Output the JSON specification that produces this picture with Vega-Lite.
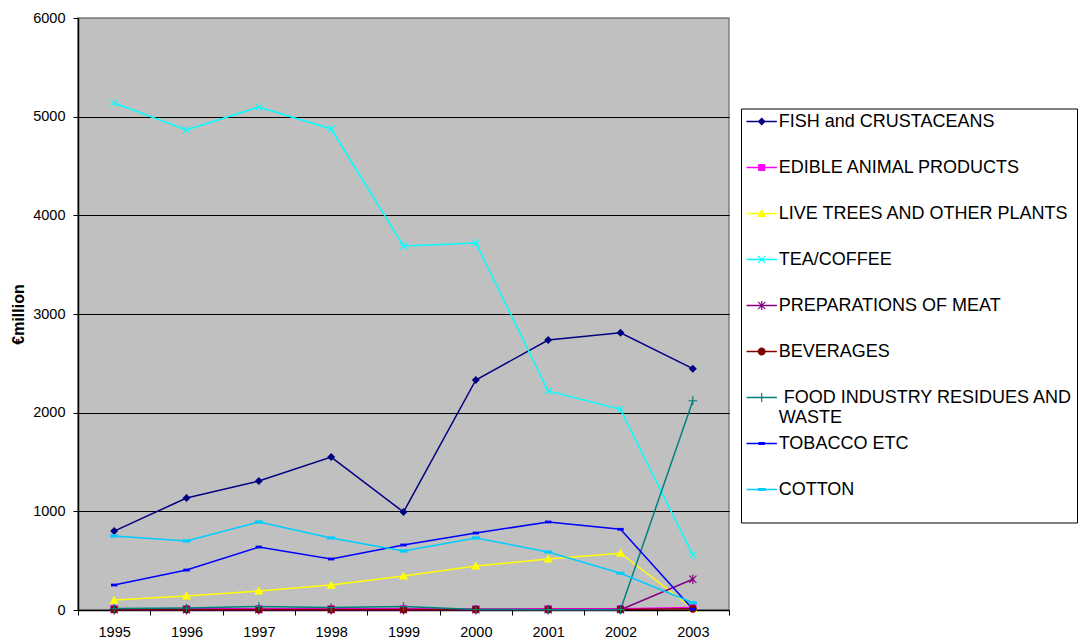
{
  "$schema": "https://vega.github.io/schema/vega-lite/v6.json",
  "width": 651,
  "height": 592,
  "autosize": {"type": "none"},
  "padding": {"left": 78, "top": 18, "right": 351, "bottom": 32},
  "background": "white",
  "config": {
    "font": "Liberation Sans",
    "view": {"fill": "#C0C0C0", "stroke": "#808080", "strokeWidth": 1.5},
    "axis": {
      "labelFont": "Liberation Sans",
      "labelFontSize": 14.5,
      "labelColor": "black",
      "tickColor": "black",
      "tickSize": 5,
      "domainColor": "black",
      "domainWidth": 1.5
    }
  },
  "data": {
    "values": [
      {"series": "FISH and CRUSTACEANS", "year": "1995", "value": 800},
      {"series": "FISH and CRUSTACEANS", "year": "1996", "value": 1135},
      {"series": "FISH and CRUSTACEANS", "year": "1997", "value": 1307},
      {"series": "FISH and CRUSTACEANS", "year": "1998", "value": 1550},
      {"series": "FISH and CRUSTACEANS", "year": "1999", "value": 993},
      {"series": "FISH and CRUSTACEANS", "year": "2000", "value": 2331},
      {"series": "FISH and CRUSTACEANS", "year": "2001", "value": 2736},
      {"series": "FISH and CRUSTACEANS", "year": "2002", "value": 2810},
      {"series": "FISH and CRUSTACEANS", "year": "2003", "value": 2446},
      {"series": "EDIBLE ANIMAL PRODUCTS", "year": "1995", "value": 12},
      {"series": "EDIBLE ANIMAL PRODUCTS", "year": "1996", "value": 12},
      {"series": "EDIBLE ANIMAL PRODUCTS", "year": "1997", "value": 12},
      {"series": "EDIBLE ANIMAL PRODUCTS", "year": "1998", "value": 12},
      {"series": "EDIBLE ANIMAL PRODUCTS", "year": "1999", "value": 12},
      {"series": "EDIBLE ANIMAL PRODUCTS", "year": "2000", "value": 10},
      {"series": "EDIBLE ANIMAL PRODUCTS", "year": "2001", "value": 12},
      {"series": "EDIBLE ANIMAL PRODUCTS", "year": "2002", "value": 12},
      {"series": "EDIBLE ANIMAL PRODUCTS", "year": "2003", "value": 25},
      {"series": "LIVE TREES AND OTHER PLANTS", "year": "1995", "value": 101},
      {"series": "LIVE TREES AND OTHER PLANTS", "year": "1996", "value": 142},
      {"series": "LIVE TREES AND OTHER PLANTS", "year": "1997", "value": 193},
      {"series": "LIVE TREES AND OTHER PLANTS", "year": "1998", "value": 253},
      {"series": "LIVE TREES AND OTHER PLANTS", "year": "1999", "value": 345},
      {"series": "LIVE TREES AND OTHER PLANTS", "year": "2000", "value": 446},
      {"series": "LIVE TREES AND OTHER PLANTS", "year": "2001", "value": 517},
      {"series": "LIVE TREES AND OTHER PLANTS", "year": "2002", "value": 575},
      {"series": "LIVE TREES AND OTHER PLANTS", "year": "2003", "value": 15},
      {"series": "TEA/COFFEE", "year": "1995", "value": 5138},
      {"series": "TEA/COFFEE", "year": "1996", "value": 4865},
      {"series": "TEA/COFFEE", "year": "1997", "value": 5098},
      {"series": "TEA/COFFEE", "year": "1998", "value": 4875},
      {"series": "TEA/COFFEE", "year": "1999", "value": 3689},
      {"series": "TEA/COFFEE", "year": "2000", "value": 3720},
      {"series": "TEA/COFFEE", "year": "2001", "value": 2220},
      {"series": "TEA/COFFEE", "year": "2002", "value": 2034},
      {"series": "TEA/COFFEE", "year": "2003", "value": 557},
      {"series": "PREPARATIONS OF MEAT", "year": "1995", "value": 2},
      {"series": "PREPARATIONS OF MEAT", "year": "1996", "value": 2},
      {"series": "PREPARATIONS OF MEAT", "year": "1997", "value": 2},
      {"series": "PREPARATIONS OF MEAT", "year": "1998", "value": 2},
      {"series": "PREPARATIONS OF MEAT", "year": "1999", "value": 2},
      {"series": "PREPARATIONS OF MEAT", "year": "2000", "value": 2},
      {"series": "PREPARATIONS OF MEAT", "year": "2001", "value": 2},
      {"series": "PREPARATIONS OF MEAT", "year": "2002", "value": 2},
      {"series": "PREPARATIONS OF MEAT", "year": "2003", "value": 311},
      {"series": "BEVERAGES", "year": "1995", "value": 4},
      {"series": "BEVERAGES", "year": "1996", "value": 4},
      {"series": "BEVERAGES", "year": "1997", "value": 4},
      {"series": "BEVERAGES", "year": "1998", "value": 4},
      {"series": "BEVERAGES", "year": "1999", "value": 4},
      {"series": "BEVERAGES", "year": "2000", "value": 4},
      {"series": "BEVERAGES", "year": "2001", "value": 4},
      {"series": "BEVERAGES", "year": "2002", "value": 4},
      {"series": "BEVERAGES", "year": "2003", "value": 12},
      {"series": "FOOD INDUSTRY RESIDUES AND WASTE", "year": "1995", "value": 15},
      {"series": "FOOD INDUSTRY RESIDUES AND WASTE", "year": "1996", "value": 20},
      {"series": "FOOD INDUSTRY RESIDUES AND WASTE", "year": "1997", "value": 35},
      {"series": "FOOD INDUSTRY RESIDUES AND WASTE", "year": "1998", "value": 25},
      {"series": "FOOD INDUSTRY RESIDUES AND WASTE", "year": "1999", "value": 35},
      {"series": "FOOD INDUSTRY RESIDUES AND WASTE", "year": "2000", "value": 5},
      {"series": "FOOD INDUSTRY RESIDUES AND WASTE", "year": "2001", "value": 3},
      {"series": "FOOD INDUSTRY RESIDUES AND WASTE", "year": "2002", "value": 3},
      {"series": "FOOD INDUSTRY RESIDUES AND WASTE", "year": "2003", "value": 2121},
      {"series": "TOBACCO ETC", "year": "1995", "value": 253},
      {"series": "TOBACCO ETC", "year": "1996", "value": 405},
      {"series": "TOBACCO ETC", "year": "1997", "value": 638},
      {"series": "TOBACCO ETC", "year": "1998", "value": 517},
      {"series": "TOBACCO ETC", "year": "1999", "value": 659},
      {"series": "TOBACCO ETC", "year": "2000", "value": 780},
      {"series": "TOBACCO ETC", "year": "2001", "value": 892},
      {"series": "TOBACCO ETC", "year": "2002", "value": 818},
      {"series": "TOBACCO ETC", "year": "2003", "value": 8},
      {"series": "COTTON", "year": "1995", "value": 750},
      {"series": "COTTON", "year": "1996", "value": 700},
      {"series": "COTTON", "year": "1997", "value": 892},
      {"series": "COTTON", "year": "1998", "value": 730},
      {"series": "COTTON", "year": "1999", "value": 598},
      {"series": "COTTON", "year": "2000", "value": 730},
      {"series": "COTTON", "year": "2001", "value": 588},
      {"series": "COTTON", "year": "2002", "value": 372},
      {"series": "COTTON", "year": "2003", "value": 74}
    ]
  },
  "encoding": {
    "x": {
      "field": "year",
      "type": "ordinal",
      "scale": {"type": "band", "paddingInner": 0, "paddingOuter": 0},
      "axis": {"title": null, "labelAngle": 0, "tickBand": "extent", "labelPadding": 10, "grid": false}
    },
    "y": {
      "field": "value",
      "type": "quantitative",
      "scale": {"domain": [0, 6000], "nice": false, "zero": true},
      "axis": {
        "values": [0, 1000, 2000, 3000, 4000, 5000, 6000],
        "format": "d",
        "grid": true,
        "gridColor": {"condition": {"test": "datum.value == 6000", "value": "#808080"}, "value": "black"},
        "gridWidth": 1,
        "labelPadding": 8,
        "title": "€million",
        "titleFont": "Liberation Sans",
        "titleFontSize": 16,
        "titleFontWeight": "bold",
        "titleColor": "black",
        "titlePadding": 6
      }
    },
    "color": {
      "field": "series",
      "type": "nominal",
      "scale": {
        "domain": ["FISH and CRUSTACEANS", "EDIBLE ANIMAL PRODUCTS", "LIVE TREES AND OTHER PLANTS", "TEA/COFFEE", "PREPARATIONS OF MEAT", "BEVERAGES", "FOOD INDUSTRY RESIDUES AND WASTE", "TOBACCO ETC", "COTTON"],
        "range": ["#000080", "#FF00FF", "#FFFF00", "#00FFFF", "#800080", "#800000", "#008080", "#0000FF", "#00CCFF"]
      },
      "legend": {
        "title": null,
        "orient": "none",
        "legendX": 663,
        "legendY": 90.5,
        "fillColor": "white",
        "strokeColor": "black",
        "cornerRadius": 0,
        "padding": 4,
        "labelFont": "Liberation Sans",
        "labelFontSize": 18,
        "labelColor": "black",
        "labelLimit": 500,
        "labelBaseline": "middle",
        "labelLineHeight": 19.5,
        "labelOffset": 8,
        "symbolOffset": 7.7,
        "symbolSize": 64,
        "symbolOpacity": 1,
        "symbolStrokeWidth": 0,
        "rowPadding": 8,
        "labelExpr": "datum.value == 'FOOD INDUSTRY RESIDUES AND WASTE' ? ['\u200b\u00a0FOOD INDUSTRY RESIDUES AND', 'WASTE'] : [datum.label, '\u00a0']"
      }
    }
  },
  "layer": [
    {
      "mark": {"type": "line", "strokeWidth": 1.5},
      "encoding": {"detail": {"field": "series"}}
    },
    {
      "transform": [{"filter": "datum.series == 'FISH and CRUSTACEANS'"}],
      "mark": {"type": "point", "filled": true, "size": 64, "opacity": 1, "strokeWidth": 0, "shape": "M0,-1L1,0L0,1L-1,0Z"}
    },
    {
      "transform": [{"filter": "datum.series == 'EDIBLE ANIMAL PRODUCTS'"}],
      "mark": {"type": "point", "filled": true, "size": 64, "opacity": 1, "strokeWidth": 0, "shape": "M-0.9,-0.9L0.9,-0.9L0.9,0.9L-0.9,0.9Z"}
    },
    {
      "transform": [{"filter": "datum.series == 'LIVE TREES AND OTHER PLANTS'"}],
      "mark": {"type": "point", "filled": true, "size": 64, "opacity": 1, "strokeWidth": 0, "shape": "M0,-1.1L1.15,0.9L-1.15,0.9Z"}
    },
    {
      "transform": [{"filter": "datum.series == 'TEA/COFFEE'"}],
      "mark": {"type": "point", "filled": true, "size": 64, "opacity": 1, "strokeWidth": 0, "shape": "M-1,-0.8L-0.8,-1L0,-0.2L0.8,-1L1,-0.8L0.2,0L1,0.8L0.8,1L0,0.2L-0.8,1L-1,0.8L-0.2,0Z"}
    },
    {
      "transform": [{"filter": "datum.series == 'PREPARATIONS OF MEAT'"}],
      "mark": {"type": "point", "filled": true, "size": 64, "opacity": 1, "strokeWidth": 0, "shape": "M-1,-0.8L-0.8,-1L0,-0.2L0.8,-1L1,-0.8L0.2,0L1,0.8L0.8,1L0,0.2L-0.8,1L-1,0.8L-0.2,0ZM-0.15,-1.15L0.15,-1.15L0.15,1.15L-0.15,1.15Z"}
    },
    {
      "transform": [{"filter": "datum.series == 'BEVERAGES'"}],
      "mark": {"type": "point", "filled": true, "size": 64, "opacity": 1, "strokeWidth": 0, "shape": "M-1,0A1,1,0,1,1,1,0A1,1,0,1,1,-1,0Z"}
    },
    {
      "transform": [{"filter": "datum.series == 'FOOD INDUSTRY RESIDUES AND WASTE'"}],
      "mark": {"type": "point", "filled": true, "size": 64, "opacity": 1, "strokeWidth": 0, "shape": "M-0.15,-1.1L0.15,-1.1L0.15,-0.15L1.1,-0.15L1.1,0.15L0.15,0.15L0.15,1.1L-0.15,1.1L-0.15,0.15L-1.1,0.15L-1.1,-0.15L-0.15,-0.15Z"}
    },
    {
      "transform": [{"filter": "datum.series == 'TOBACCO ETC'"}],
      "mark": {"type": "point", "filled": true, "size": 64, "opacity": 1, "strokeWidth": 0, "shape": "M-0.8,-0.35L0.8,-0.35L0.8,0.35L-0.8,0.35Z"}
    },
    {
      "transform": [{"filter": "datum.series == 'COTTON'"}],
      "mark": {"type": "point", "filled": true, "size": 64, "opacity": 1, "strokeWidth": 0, "shape": "M-1,-0.4L1,-0.4L1,0.4L-1,0.4Z"}
    },
    {
      "transform": [{"filter": "false"}],
      "mark": {"type": "point", "filled": true, "size": 64, "opacity": 1, "strokeWidth": 0},
      "encoding": {
        "shape": {
          "field": "series",
          "type": "nominal",
          "scale": {
            "domain": ["FISH and CRUSTACEANS", "EDIBLE ANIMAL PRODUCTS", "LIVE TREES AND OTHER PLANTS", "TEA/COFFEE", "PREPARATIONS OF MEAT", "BEVERAGES", "FOOD INDUSTRY RESIDUES AND WASTE", "TOBACCO ETC", "COTTON"],
            "range": [
              "M-3.8,-0.19L3.8,-0.19L3.8,0.19L-3.8,0.19ZM0,-1L1,0L0,1L-1,0Z",
              "M-3.8,-0.19L3.8,-0.19L3.8,0.19L-3.8,0.19ZM-0.9,-0.9L0.9,-0.9L0.9,0.9L-0.9,0.9Z",
              "M-3.8,-0.19L3.8,-0.19L3.8,0.19L-3.8,0.19ZM0,-1.1L1.15,0.9L-1.15,0.9Z",
              "M-3.8,-0.19L3.8,-0.19L3.8,0.19L-3.8,0.19ZM-1,-0.8L-0.8,-1L0,-0.2L0.8,-1L1,-0.8L0.2,0L1,0.8L0.8,1L0,0.2L-0.8,1L-1,0.8L-0.2,0Z",
              "M-3.8,-0.19L3.8,-0.19L3.8,0.19L-3.8,0.19ZM-1,-0.8L-0.8,-1L0,-0.2L0.8,-1L1,-0.8L0.2,0L1,0.8L0.8,1L0,0.2L-0.8,1L-1,0.8L-0.2,0ZM-0.15,-1.15L0.15,-1.15L0.15,1.15L-0.15,1.15Z",
              "M-3.8,-0.19L3.8,-0.19L3.8,0.19L-3.8,0.19ZM-1,0A1,1,0,1,1,1,0A1,1,0,1,1,-1,0Z",
              "M-3.8,-0.19L3.8,-0.19L3.8,0.19L-3.8,0.19ZM-0.15,-1.1L0.15,-1.1L0.15,1.1L-0.15,1.1Z",
              "M-3.8,-0.19L3.8,-0.19L3.8,0.19L-3.8,0.19ZM-0.8,-0.35L0.8,-0.35L0.8,0.35L-0.8,0.35Z",
              "M-3.8,-0.19L3.8,-0.19L3.8,0.19L-3.8,0.19ZM-1,-0.4L1,-0.4L1,0.4L-1,0.4Z"
            ]
          }
        }
      }
    }
  ]
}
